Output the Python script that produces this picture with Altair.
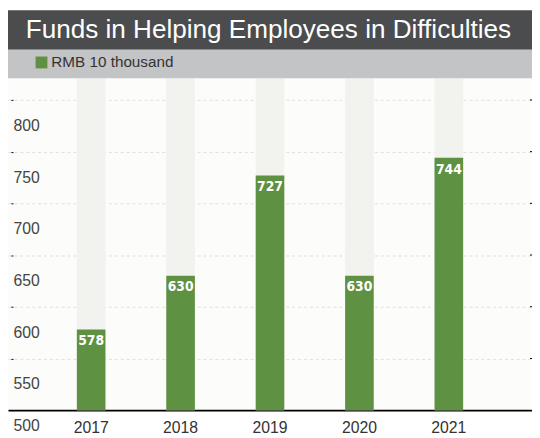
import altair as alt
import pandas as pd

# ---- data ----
years = ["2017", "2018", "2019", "2020", "2021"]
funds = [578, 630, 727, 630, 744]
y_ticks = [500, 550, 600, 650, 700, 750, 800]
title_text = "Funds in Helping Employees in Difficulties"
legend_text = "RMB 10 thousand"

df = pd.DataFrame({"year": years, "funds": funds})
tick_df = pd.DataFrame({"v": y_ticks[1:]})

GREEN = "#5f9142"
FONT = "Liberation Sans"

x_scale = alt.Scale(domain=years, paddingInner=0.68, paddingOuter=0.77)
y_scale = alt.Scale(domain=[500, 821], nice=False, zero=False)

x_enc = alt.X(
    "year:N",
    scale=x_scale,
    axis=alt.Axis(
        title=None, labelAngle=0, domainColor="#000000", domainWidth=2,
        ticks=False, labelPadding=10, labelFontSize=16, labelColor="#333333",
        labelFont=FONT, grid=False,
    ),
)

y_axis = alt.Axis(
    title=None, values=y_ticks, grid=True, gridDash=[3, 3], gridColor="#dedede",
    domain=False, tickColor="#000000", tickSize=2, offset=-5,
    labelAlign="left", labelPadding=-2, labelBaseline="middle",
    labelOffset={"condition": {"test": "datum.value == 500", "value": 16}, "value": 26},
    labelFontSize=16, labelColor="#444444", labelFont=FONT,
)

base = alt.Chart(df)

bg_cols = base.mark_bar(color="#f2f3ee").encode(
    x=x_enc,
    y=alt.Y(datum=821, scale=y_scale, axis=y_axis),
    y2=alt.Y2(datum=500),
)

bars = base.mark_bar(color=GREEN).encode(
    x=alt.X("year:N", scale=x_scale),
    y=alt.Y("funds:Q", scale=y_scale),
    y2=alt.Y2(datum=500),
)

bar_labels = base.mark_text(
    color="white", font="DejaVu Sans Condensed", fontWeight="bold",
    fontSize=14, baseline="middle", dy=12,
).encode(
    x=alt.X("year:N", scale=x_scale),
    y=alt.Y("funds:Q", scale=y_scale),
    text=alt.Text("funds:Q"),
)

right_ticks = alt.Chart(tick_df).mark_rule(color="#000000", strokeWidth=1).encode(
    x=alt.value(530), x2=alt.value(532),
    y=alt.Y("v:Q", scale=y_scale),
)

one = pd.DataFrame({"t": [title_text], "l": [legend_text]})

title_bar = alt.Chart(one).mark_rect(color="#4b4c4e").encode(
    x=alt.value(-2), x2=alt.value(532), y=alt.value(-69), y2=alt.value(-29)
)
sub_bar = alt.Chart(one).mark_rect(color="#c3c4c6").encode(
    x=alt.value(-2), x2=alt.value(532), y=alt.value(-29), y2=alt.value(0)
)
legend_sq = alt.Chart(one).mark_rect(color=GREEN).encode(
    x=alt.value(28), x2=alt.value(40), y=alt.value(-22), y2=alt.value(-10)
)
legend_txt = alt.Chart(one).mark_text(
    align="left", baseline="middle", fontSize=15.5, font=FONT, color="#333333"
).encode(x=alt.value(44), y=alt.value(-16), text="l:N")
title_txt = alt.Chart(one).mark_text(
    align="left", baseline="middle", fontSize=26.5, font=FONT, color="#ffffff"
).encode(x=alt.value(18), y=alt.value(-49), text="t:N")

chart = alt.layer(
    bg_cols, bars, bar_labels, right_ticks,
    title_bar, sub_bar, legend_sq, legend_txt, title_txt,
).properties(
    width=532, height=337,
    autosize=alt.AutoSizeParams(type="none"),
    padding={"left": 0, "top": 68, "right": 0, "bottom": 25},
    background="#ffffff",
).configure_view(fill="#fcfcfa", stroke=None)

chart.save("out.html", embed_options={"renderer": "svg", "actions": False})
